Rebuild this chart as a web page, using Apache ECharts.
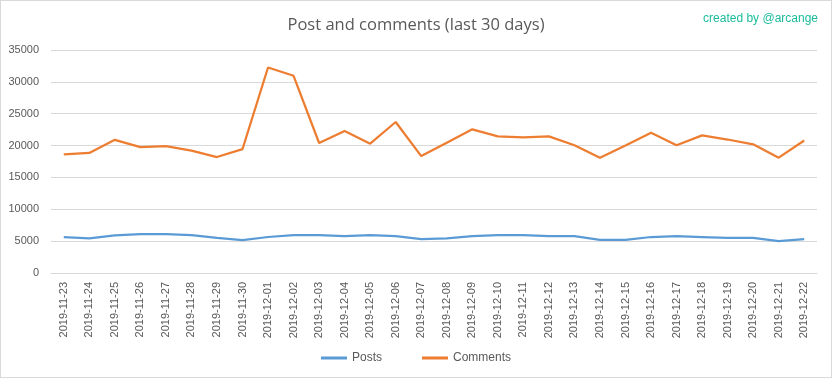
<!DOCTYPE html>
<html lang="en">
<head>
    <meta charset="UTF-8">
    <title>Post and comments</title>
    <script src="https://cdn.jsdelivr.net/npm/echarts@6/dist/echarts.min.js"></script>
</head>
<style>
    html, body { margin: 0; padding: 0; background: #fff; }
    .chart {
        width: 830px;
        height: 376px;
        border: 1px solid #d9d9d9;
    }
</style>
<body>
<div id="chart" class="chart"></div>

<script>
    let days = ['2019-11-23', '2019-11-24', '2019-11-25', '2019-11-26', '2019-11-27', '2019-11-28',
        '2019-11-29', '2019-11-30', '2019-12-01', '2019-12-02', '2019-12-03', '2019-12-04',
        '2019-12-05', '2019-12-06', '2019-12-07', '2019-12-08', '2019-12-09', '2019-12-10',
        '2019-12-11', '2019-12-12', '2019-12-13', '2019-12-14', '2019-12-15', '2019-12-16',
        '2019-12-17', '2019-12-18', '2019-12-19', '2019-12-20', '2019-12-21', '2019-12-22']
    let posts = [5650, 5450, 5900, 6100, 6100, 5950, 5500, 5150, 5650, 5950, 5950, 5800,
        5950, 5800, 5300, 5450, 5800, 5950, 5950, 5800, 5800, 5200, 5200, 5650,
        5800, 5650, 5500, 5500, 5000, 5300]
    let comments = [18600, 18850, 20900, 19750, 19900, 19200, 18200, 19450, 32250, 30950, 20400, 22300,
        20300, 23700, 18350, 20450, 22550, 21450, 21300, 21450, 20050, 18100, 20000, 22000,
        20050, 21600, 20950, 20200, 18100, 20800]

    let font = 'Liberation Sans'
    let option = {
        animation: false,
        title: [{
            text: 'Post and comments (last 30 days)',
            left: 'center',
            top: 11,
            textStyle: {fontFamily: 'Open Sans', fontSize: 16.5, fontWeight: 'normal', color: '#595959'}
        }, {
            text: 'created by @arcange',
            right: 8,
            top: 7,
            textStyle: {fontFamily: font, fontSize: 12, fontWeight: 'normal', color: '#1abc9c'}
        }],
        legend: {
            bottom: 8,
            left: 'center',
            icon: 'rect',
            itemWidth: 26,
            itemHeight: 3,
            itemGap: 40,
            textStyle: {fontFamily: font, fontSize: 12, color: '#595959'},
            data: ['Posts', 'Comments']
        },
        grid: {left: 50, right: 14, top: 49, bottom: 104, containLabel: false},
        xAxis: {
            type: 'category',
            data: days,
            boundaryGap: true,
            axisLine: {lineStyle: {color: '#d9d9d9'}},
            axisTick: {show: false},
            axisLabel: {rotate: 90, interval: 0, margin: 9, fontFamily: font, fontSize: 11, color: '#595959'}
        },
        yAxis: {
            type: 'value',
            min: 0,
            max: 35000,
            interval: 5000,
            axisLine: {show: false},
            axisTick: {show: false},
            axisLabel: {
                margin: 12, fontFamily: font, fontSize: 11, color: '#595959',
                formatter: function (v) { return String(v) }
            },
            splitLine: {lineStyle: {color: '#d9d9d9'}}
        },
        series: [{
            name: 'Posts',
            type: 'line',
            data: posts,
            symbol: 'none',
            color: '#5b9bd5',
            lineStyle: {width: 2.25}
        }, {
            name: 'Comments',
            type: 'line',
            data: comments,
            symbol: 'none',
            color: '#ed7d31',
            lineStyle: {width: 2.25}
        }]
    }

    let chart = echarts.init(document.getElementById('chart'))
    chart.setOption(option)
</script>
</body>
</html>
